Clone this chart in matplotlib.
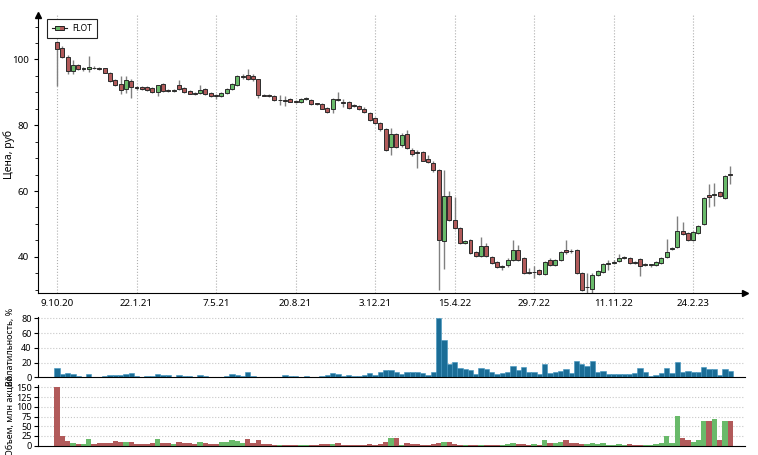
"""
FLOT weekly candlestick chart with volatility and volume panels.
"""

import numpy as np
import matplotlib
matplotlib.use("Agg")
import matplotlib.pyplot as plt
from matplotlib.patches import Rectangle
from matplotlib.lines import Line2D
from matplotlib.legend_handler import HandlerBase

# Weekly candles, one row per bar: open, high, low, close
opens = [105.3, 103.5, 100.8, 96.4, 98.3, 97.0, 97.0, 97.5, 97.3, 97.3,
         96.0, 93.7, 92.5, 90.9, 93.4, 91.7, 91.5, 91.7, 91.3, 90.1,
         92.6, 90.7, 90.4, 92.1, 91.2, 90.4, 89.7, 89.8, 91.0, 89.7,
         89.1, 88.9, 89.7, 91.0, 92.1, 94.7, 95.3, 95.1, 93.9, 89.3,
         89.1, 89.0, 87.6, 87.8, 87.9, 87.3, 87.2, 88.0, 87.6, 86.6,
         86.6, 85.2, 84.8, 88.0, 87.0, 87.0, 86.1, 85.9, 84.8, 83.8,
         82.1, 80.7, 79.0, 73.3, 77.2, 74.0, 77.2, 72.6, 72.0, 71.8,
         69.8, 68.6, 66.5, 44.9, 58.6, 51.1, 48.8, 44.2, 45.0, 41.6,
         40.3, 43.2, 39.9, 38.3, 37.0, 37.4, 39.1, 42.0, 39.6, 35.5,
         35.3, 35.9, 34.8, 39.1, 37.5, 39.1, 42.2, 41.9, 42.2, 35.1,
         30.8, 30.2, 34.5, 35.5, 37.9, 38.2, 38.7, 39.7, 39.6, 38.2,
         39.4, 37.5, 37.5, 37.6, 38.2, 40.0, 42.4, 42.9, 47.9, 47.3,
         45.0, 47.3, 50.1, 58.7, 58.7, 59.7, 57.9, 65.3]
highs = [105.5, 104.2, 101.3, 99.8, 98.5, 97.8, 101.0, 98.0, 97.6, 97.5,
         96.3, 94.0, 94.9, 94.9, 94.0, 92.0, 91.9, 92.0, 91.5, 92.3,
         92.9, 91.0, 91.0, 93.8, 91.5, 90.6, 90.0, 92.3, 91.3, 90.0,
         89.4, 90.0, 91.2, 92.7, 95.2, 95.6, 97.2, 95.6, 94.2, 89.6,
         89.4, 89.3, 89.2, 89.0, 88.2, 87.6, 88.4, 88.5, 87.9, 86.9,
         86.9, 85.4, 88.3, 90.0, 88.0, 87.3, 86.5, 86.2, 85.4, 84.1,
         82.4, 81.0, 79.3, 79.2, 77.6, 77.6, 78.5, 73.0, 72.5, 72.3,
         71.1, 69.0, 66.8, 66.5, 59.9, 58.3, 49.1, 45.0, 45.3, 41.9,
         46.0, 44.2, 40.2, 38.6, 37.6, 39.5, 45.0, 43.5, 39.9, 36.7,
         37.1, 36.2, 38.6, 39.5, 39.4, 41.9, 45.0, 42.5, 42.5, 35.4,
         35.1, 35.2, 36.0, 38.2, 39.1, 38.9, 40.8, 40.2, 39.9, 38.6,
         39.7, 38.0, 37.9, 38.6, 39.9, 45.4, 42.9, 52.5, 50.5, 47.6,
         47.9, 49.8, 58.2, 62.0, 62.5, 60.0, 64.8, 67.7]
lows = [91.8, 100.5, 95.7, 95.7, 96.8, 96.5, 96.2, 97.0, 96.8, 95.8,
        93.0, 91.8, 89.5, 89.8, 88.4, 90.8, 90.8, 90.5, 89.7, 89.0,
        90.0, 90.0, 90.0, 90.6, 89.8, 89.4, 89.3, 89.5, 89.2, 88.6,
        87.9, 88.5, 89.5, 90.8, 91.8, 94.2, 93.7, 93.5, 88.4, 88.8,
        88.7, 87.5, 86.0, 85.7, 87.0, 86.8, 86.9, 87.7, 86.3, 86.2,
        84.8, 83.6, 83.8, 87.3, 85.6, 85.0, 85.6, 84.5, 83.8, 81.3,
        80.3, 78.3, 72.3, 71.1, 73.0, 73.5, 72.8, 70.5, 67.0, 69.0,
        68.5, 65.9, 30.0, 36.3, 50.8, 48.5, 43.9, 43.9, 41.0, 40.0,
        40.0, 40.0, 37.8, 36.6, 35.9, 37.0, 38.8, 38.8, 34.8, 34.8,
        33.5, 34.5, 34.5, 37.2, 37.2, 38.8, 41.0, 41.3, 34.8, 29.7,
        29.0, 28.9, 34.2, 35.2, 36.1, 37.8, 38.4, 39.3, 37.9, 37.8,
        34.2, 37.2, 36.9, 37.3, 37.9, 39.7, 42.2, 42.6, 46.6, 44.9,
        44.7, 47.0, 49.8, 55.2, 55.3, 58.1, 57.6, 62.0]
closes = [103.3, 100.8, 96.4, 98.2, 97.2, 97.5, 97.6, 97.3, 97.1, 96.0,
          93.5, 92.1, 90.7, 93.6, 91.7, 91.3, 91.0, 90.7, 90.1, 92.1,
          90.4, 90.3, 90.6, 90.9, 90.0, 89.6, 89.5, 90.6, 89.5, 88.8,
          88.8, 89.7, 91.0, 92.5, 94.9, 95.0, 94.0, 93.9, 89.1, 89.0,
          88.9, 87.8, 87.8, 87.5, 87.2, 87.1, 88.1, 88.2, 86.5, 86.5,
          85.0, 84.0, 88.0, 87.6, 86.8, 85.3, 85.9, 84.8, 84.1, 81.7,
          80.7, 78.9, 72.6, 77.2, 73.5, 77.0, 73.1, 71.4, 71.7, 69.2,
          68.9, 66.3, 45.2, 58.6, 51.1, 48.8, 44.2, 44.7, 41.3, 40.3,
          43.2, 40.3, 38.1, 36.9, 37.1, 39.1, 42.2, 39.1, 35.1, 35.2,
          35.4, 34.8, 38.3, 37.5, 39.1, 41.6, 41.4, 41.7, 35.1, 30.0,
          30.9, 34.6, 35.6, 37.9, 38.0, 38.4, 39.6, 39.8, 38.2, 38.1,
          37.3, 37.6, 37.7, 38.3, 39.6, 41.5, 42.6, 47.8, 46.9, 45.2,
          47.6, 49.5, 57.9, 58.3, 59.2, 58.4, 64.5, 64.9]

# Weekly volatility, %
volatility = [12.4, 4.5, 5.5, 4.1, 2.0, 1.0, 4.5, 0.5, 1.0, 1.4,
              2.8, 2.8, 3.2, 4.5, 6.4, 2.0, 1.0, 1.4, 1.4, 4.5,
              3.2, 3.2, 1.0, 2.8, 2.0, 1.4, 0.5, 2.8, 2.0, 1.0,
              0.5, 1.0, 2.0, 4.5, 3.2, 1.4, 7.4, 1.4, 1.0, 0.5,
              1.0, 1.0, 1.0, 3.2, 1.4, 1.4, 1.0, 1.4, 0.5, 1.0,
              1.4, 2.8, 5.5, 5.0, 1.4, 2.8, 2.0, 2.4, 2.8, 6.0,
              3.7, 6.6, 9.3, 10.2, 6.6, 4.0, 6.6, 7.0, 7.5, 6.2,
              3.5, 7.0, 81.0, 50.9, 17.7, 20.4, 12.3, 10.9, 10.0, 4.5,
              13.0, 10.9, 6.8, 4.5, 6.4, 7.0, 15.9, 9.5, 13.6, 7.3,
              7.3, 4.5, 17.7, 6.4, 7.0, 8.2, 10.9, 5.5, 22.5, 18.2,
              15.9, 22.0, 7.7, 8.6, 4.5, 4.5, 4.5, 4.5, 5.0, 5.5,
              12.3, 7.7, 2.3, 3.2, 5.5, 12.7, 5.9, 20.4, 6.8, 9.1,
              6.8, 6.8, 14.0, 10.9, 10.9, 3.6, 11.4, 8.6]

# Weekly volume, mln shares
volume = [150.0, 25.7, 11.0, 7.7, 3.4, 4.0, 17.0, 4.0, 6.0, 6.0,
          7.7, 11.0, 8.6, 8.6, 8.6, 5.0, 4.0, 4.0, 6.0, 16.3,
          6.0, 7.7, 3.4, 10.3, 7.7, 6.0, 4.0, 9.4, 6.9, 5.0,
          4.0, 10.3, 9.4, 14.6, 11.0, 6.0, 16.3, 6.0, 13.7, 3.4,
          3.4, 2.6, 2.6, 1.7, 1.7, 1.7, 2.6, 1.7, 1.7, 1.7,
          3.4, 3.4, 4.3, 7.7, 1.7, 2.6, 1.7, 1.7, 2.6, 3.4,
          2.6, 4.3, 8.6, 18.9, 18.9, 2.6, 6.0, 5.1, 3.4, 1.7,
          1.7, 3.4, 7.7, 8.6, 8.6, 4.3, 2.6, 0.9, 0.9, 0.9,
          2.6, 1.7, 0.9, 0.9, 0.9, 3.4, 6.9, 4.3, 3.4, 2.6,
          3.4, 2.6, 14.6, 6.0, 6.0, 8.6, 14.6, 6.0, 6.0, 5.1,
          3.4, 7.7, 4.3, 7.7, 1.7, 2.6, 3.4, 2.6, 3.4, 0.9,
          2.6, 2.6, 1.7, 3.4, 6.0, 25.7, 6.0, 77.0, 20.6, 14.6,
          10.3, 13.7, 62.6, 64.3, 69.4, 15.4, 64.3, 64.3]

tick_labels = ['9.10.20', '22.1.21', '7.5.21', '20.8.21', '3.12.21',
               '15.4.22', '29.7.22', '11.11.22', '24.2.23']
ticker = 'FLOT'

RED = '#b15a5a'
GREEN = '#69ba6a'
BLUE = '#1b6d96'


class CandleHandler(HandlerBase):
    """Legend handle: a little candle, half green, half red."""

    def create_artists(self, legend, orig_handle, xdescent, ydescent,
                       width, height, fontsize, trans):
        cy = height / 2 - ydescent
        line = Line2D([0, width], [cy, cy], color='#222222', lw=0.8,
                      transform=trans)
        bw = width * 0.55
        x0 = (width - bw) / 2
        g = Rectangle((x0, cy - height * 0.35), bw / 2, height * 0.7,
                      facecolor=GREEN, edgecolor='none', transform=trans)
        r = Rectangle((x0 + bw / 2, cy - height * 0.35), bw / 2, height * 0.7,
                      facecolor=RED, edgecolor='none', transform=trans)
        box = Rectangle((x0, cy - height * 0.35), bw, height * 0.7,
                        facecolor='none', edgecolor='#222222', lw=0.7,
                        transform=trans)
        return [line, g, r, box]


def add_arrows(ax):
    """Arrow heads on the ends of the left and bottom spines."""
    ax.plot(1, 0, '>k', ms=4, transform=ax.transAxes, clip_on=False)
    ax.plot(0, 1, '^k', ms=4, transform=ax.transAxes, clip_on=False)


def draw_candles(ax, x, o, h, l, c):
    """Draw candle wicks and bodies."""
    up = c >= o
    colors = np.where(up, GREEN, RED)
    ax.vlines(x, l, h, color='#808080', lw=1.0, zorder=2)
    bottoms = np.minimum(o, c)
    heights = np.maximum(np.abs(c - o), 0.18)
    ax.bar(x, heights, bottom=bottoms, width=0.75, color=colors,
           edgecolor='#2b2b2b', linewidth=0.7, zorder=3)


def style_lower(ax, label):
    """Common look of the two bottom panels."""
    ax.set_xlim(*xlim)
    ax.set_xticks([])
    ax.tick_params(axis='y', labelsize=6.5, length=3, pad=1.5)
    ax.grid(axis='y', color='#c8c8c8', linestyle=':', linewidth=0.8)
    ax.set_axisbelow(True)
    for s in ['top', 'right']:
        ax.spines[s].set_visible(False)
    ax.set_ylabel(label, fontsize=6.5)
    ax.yaxis.set_label_coords(-0.033, 0.5)


plt.rcParams['font.family'] = ['Noto Sans', 'DejaVu Sans']

o = np.array(opens)
h = np.array(highs)
l = np.array(lows)
c = np.array(closes)
x = np.arange(len(o))
xlim = (-3.6, 129.8)

fig = plt.figure(figsize=(7.58, 4.55), dpi=100)
ax_p = fig.add_axes([0.050, 0.356, 0.933, 0.611])
ax_v = fig.add_axes([0.050, 0.1708, 0.933, 0.1325])
ax_q = fig.add_axes([0.050, 0.0204, 0.933, 0.1334])

# Price panel
draw_candles(ax_p, x, o, h, l, c)
ax_p.set_xlim(*xlim)
ax_p.set_ylim(29, 113.5)
ax_p.set_xticks(np.arange(len(tick_labels)) * 15)
ax_p.set_xticklabels(tick_labels, fontsize=7)
ax_p.set_yticks([40, 60, 80, 100])
ax_p.set_yticks(np.arange(30, 115, 5), minor=True)
ax_p.tick_params(axis='y', labelsize=7, length=3)
ax_p.tick_params(axis='y', which='minor', length=2)
ax_p.tick_params(axis='x', length=0, pad=4)
ax_p.grid(axis='x', color='#b0b0b0', linestyle=':', linewidth=0.8)
ax_p.set_axisbelow(True)
for s in ['top', 'right']:
    ax_p.spines[s].set_visible(False)
add_arrows(ax_p)
ax_p.set_ylabel('Цена, руб', fontsize=7.5)
ax_p.yaxis.set_label_coords(-0.033, 0.5)
leg = ax_p.legend([Rectangle((0, 0), 1, 1)], [ticker], loc='upper left',
                  handler_map={Rectangle: CandleHandler()},
                  fontsize=6, fancybox=False, edgecolor='#222222',
                  framealpha=1, borderpad=0.6, handlelength=1.8,
                  handletextpad=0.6, bbox_to_anchor=(0.007, 1.0))
leg.get_frame().set_linewidth(0.8)

# Volatility panel
ax_v.bar(x, volatility, width=1.0, color=BLUE, edgecolor='#3f93bf',
         linewidth=0.4)
ax_v.set_ylim(0, 82)
ax_v.set_yticks([0, 20, 40, 60, 80])
style_lower(ax_v, 'Волатильность, %')

# Volume panel
vol_colors = np.where(c >= o, GREEN, RED)
ax_q.bar(x, volume, width=1.0, color=vol_colors, edgecolor='none')
ax_q.set_ylim(0, 156)
ax_q.set_yticks([0, 25, 50, 75, 100, 125, 150])
style_lower(ax_q, 'Объем, млн акций')

fig.savefig('out.png', dpi=100)
